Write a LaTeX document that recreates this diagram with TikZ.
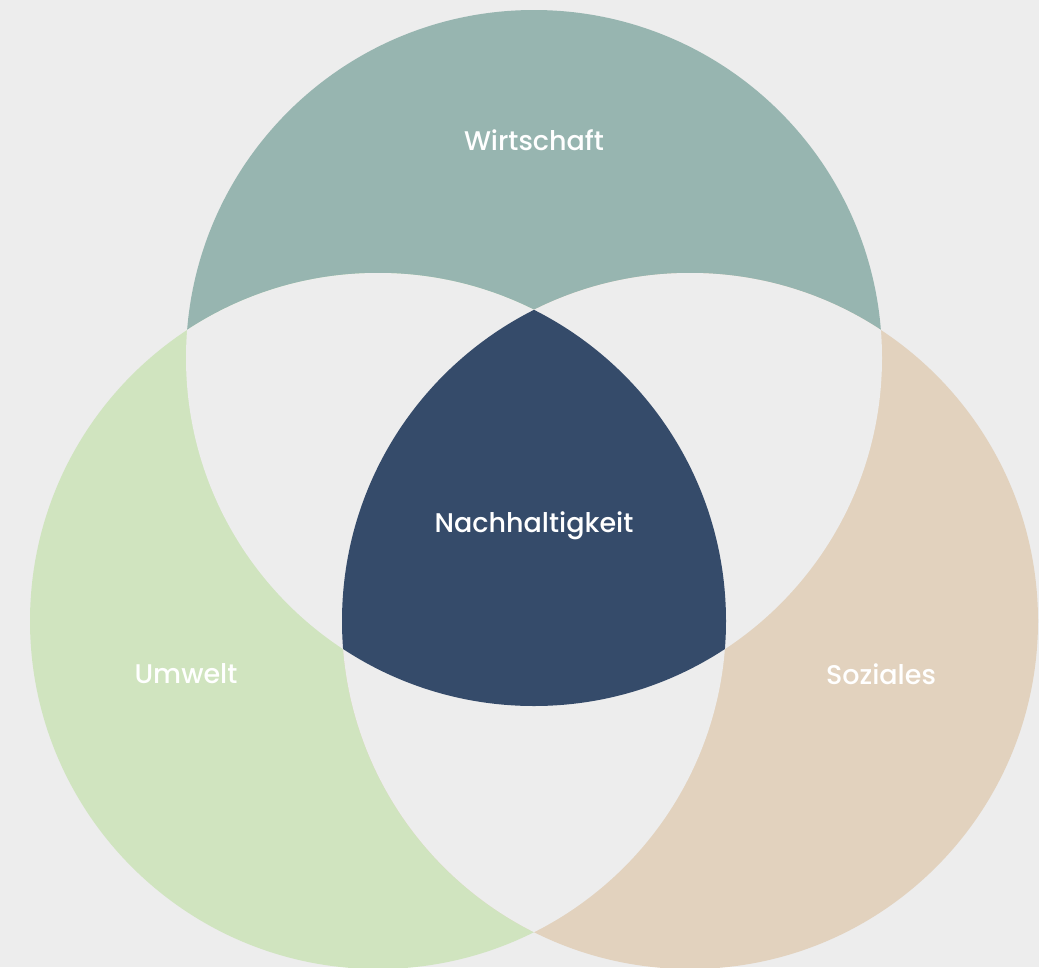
\documentclass[tikz,border=0pt]{standalone}
\usepackage{fontspec}
\setmainfont{Poppins}
\newfontfamily\lblfont{Poppins}[UprightFont={* Medium}]
\usepackage{tikz}
\usetikzlibrary{positioning}
\definecolor{bggray}{HTML}{EDEDED}
\definecolor{wirtcol}{HTML}{97B5B0}
\definecolor{umwcol}{HTML}{D0E4BF}
\definecolor{sozcol}{HTML}{E2D2BE}
\definecolor{nachcol}{HTML}{354B6A}
\tikzset{x=1pt, y=-1pt, ring/.style={radius=348pt}, lbl/.style={text=white, inner sep=0pt, font=\lblfont\fontsize{27}{30}\selectfont}}

\begin{document}
\begin{tikzpicture}
            \useasboundingbox (0,0) rectangle (1039,967);
            \fill[bggray] (0,0) rectangle (1039,967);
            \coordinate (cw) at (534,358);
            \coordinate (cu) at (378,621);
            \coordinate (cs) at (690,621);

            % the three circles
            \fill[wirtcol] (cw) circle[ring];
            \fill[umwcol] (cu) circle[ring];
            \fill[sozcol] (cs) circle[ring];

            % pairwise overlaps
            \begin{scope}
                \clip (cw) circle[ring];
                \fill[bggray] (cu) circle[ring];
                \fill[bggray] (cs) circle[ring];
            \end{scope}
            \begin{scope}
                \clip (cu) circle[ring];
                \fill[bggray] (cs) circle[ring];
            \end{scope}

            % middle
            \begin{scope}
                \clip (cw) circle[ring];
                \clip (cu) circle[ring];
                \fill[nachcol] (cs) circle[ring];
            \end{scope}

            \node[lbl] (wirt) at (534,140) {Wirtschaft};
            \node[lbl] (nach) at (534,526) {Nachhaltigkeit};
            \node[lbl] (umw) at (186,674) {Umwelt};
            \node[lbl] (soz) at (881,674) {Soziales};
        \end{tikzpicture}
\end{document}
